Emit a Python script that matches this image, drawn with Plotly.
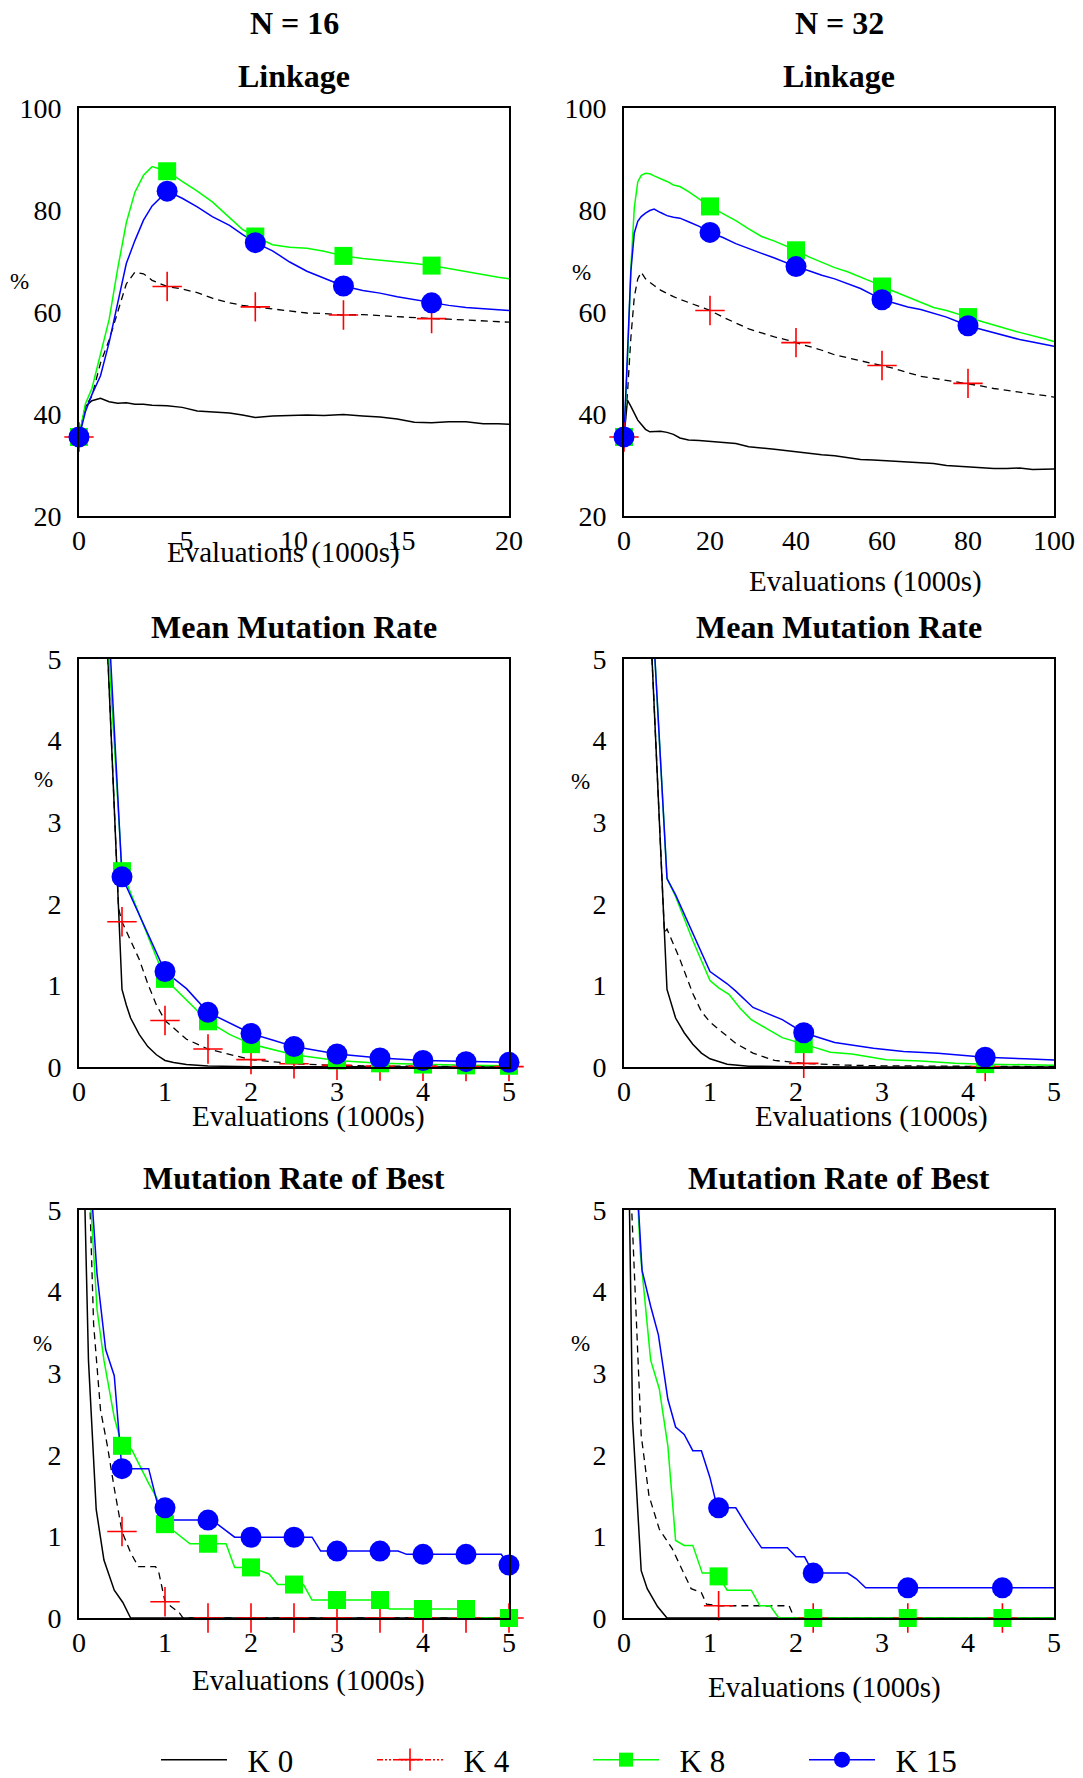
import plotly.graph_objects as go

W, H = 1083, 1778
FONT = "Liberation Serif"
BLACK, RED, GREEN, BLUE = "#000000", "#ff0000", "#00ff00", "#0000ff"

# ---------------- N = 16 : linkage (evaluations in 1000s) ----------------
link16_x = [0, 0.3, 0.6, 1.0, 1.4, 1.8, 2.2, 2.6, 3.0, 3.4, 4.1, 4.8, 5.5, 6.2, 7.0, 7.6,
            8.2, 9.0, 9.8, 10.6, 11.4, 12.3, 13.2, 14.0, 14.8, 15.6, 16.4, 17.2, 18.0,
            18.8, 19.5, 20.0]
link16_k0 = [35.5, 41.5, 42.6, 43.1, 42.4, 42.1, 42.2, 41.9, 41.9, 41.7, 41.6, 41.3, 40.6,
             40.4, 40.2, 39.8, 39.3, 39.6, 39.7, 39.8, 39.7, 39.9, 39.6, 39.4, 39.0, 38.4,
             38.3, 38.5, 38.5, 38.1, 38.1, 38.0]
link16_k4 = [35.5, 41.5, 43.5, 50.0, 54.5, 60.0, 65.5, 67.8, 67.5, 66.2, 65.0, 64.5, 63.8,
             62.7, 61.8, 61.3, 61.0, 60.6, 60.1, 59.8, 59.7, 59.4, 59.5, 59.3, 59.0, 58.9,
             58.7, 58.6, 58.4, 58.3, 58.1, 58.0]
link16_k8 = [35.5, 42.0, 45.0, 51.5, 58.5, 68.5, 77.5, 83.5, 86.8, 88.5, 87.6, 85.6, 83.7,
             81.6, 78.5, 76.2, 74.8, 73.2, 72.7, 72.5, 71.9, 71.0, 70.5, 70.2, 69.8, 69.5,
             69.1, 68.5, 67.8, 67.3, 66.8, 66.5]
link16_k15 = [35.5, 40.5, 43.8, 47.5, 54.0, 62.0, 69.5, 74.0, 78.0, 80.8, 83.7, 82.3, 80.6,
              78.7, 77.0, 75.2, 73.6, 72.0, 69.8, 68.0, 66.6, 65.1, 64.2, 63.7, 63.0, 62.4,
              61.8, 61.3, 60.9, 60.7, 60.5, 60.3]
link16_marks = [0, 4.1, 8.2, 12.3, 16.4]

# ---------------- N = 32 : linkage ----------------
link32_x = [0, 0.8, 1.6, 2.4, 3.2, 4, 5, 6, 7, 8.5, 10, 11.5, 13, 15, 17.5, 20, 23, 26, 29,
            32, 35, 38, 40, 43, 46, 49, 52, 55, 58, 60, 63, 66, 69, 72, 75, 78, 80, 83, 86,
            89, 92, 95, 98, 100]
link32_k0 = [35.5, 42.7, 41.5, 40.0, 38.8, 38.0, 37.0, 36.5, 36.5, 36.6, 36.4, 36.0, 35.3,
             34.9, 34.8, 34.6, 34.5, 34.2, 33.6, 33.4, 33.1, 32.8, 32.6, 32.2, 32.0, 31.8,
             31.4, 31.1, 31.0, 30.9, 30.7, 30.5, 30.4, 30.3, 29.9, 29.7, 29.6, 29.5, 29.3,
             29.3, 29.4, 29.1, 29.2, 29.2]
link32_k4 = [35.5, 44.0, 55.0, 63.0, 66.5, 67.8, 66.5, 65.8, 65.2, 64.3, 63.6, 63.0, 62.5,
             61.9, 61.0, 60.3, 59.0, 57.8, 56.7, 55.9, 55.1, 54.5, 54.0, 53.3, 52.5, 51.6,
             51.0, 50.5, 49.9, 49.5, 48.9, 48.1, 47.4, 47.0, 46.6, 46.3, 46.0, 45.5, 45.0,
             44.6, 44.2, 43.9, 43.6, 43.3]
link32_k8 = [35.5, 50.0, 68.7, 80.5, 85.5, 86.8, 87.2, 87.1, 86.7, 86.2, 85.6, 84.9, 84.6,
             83.6, 82.2, 80.7, 79.3, 77.9, 76.3, 74.8, 73.9, 72.9, 72.1, 70.8, 69.8, 68.7,
             67.9, 66.9, 65.8, 65.0, 64.0, 63.0, 61.9, 60.9, 60.3, 59.6, 59.0, 58.2, 57.4,
             56.7, 56.0, 55.4, 54.7, 54.2]
link32_k15 = [35.5, 52.0, 68.0, 75.5, 77.8, 78.7, 79.4, 79.9, 80.2, 79.5, 78.9, 78.6, 78.4,
              77.7, 76.8, 75.6, 74.6, 73.4, 72.4, 71.5, 70.6, 69.5, 68.9, 68.1, 67.2, 66.5,
              65.5, 64.6, 63.3, 62.4, 61.7, 61.0, 60.5, 59.8, 59.0, 58.0, 57.3, 56.6, 55.9,
              55.2, 54.6, 54.1, 53.6, 53.3]
link32_marks = [0, 20, 40, 60, 80]

# ---------------- N = 16 : mean mutation rate ----------------
mean16_k0_x = [0.3, 0.5, 0.55, 0.6, 0.7, 0.8, 0.9, 1.0, 1.1, 1.25, 1.5, 2.0, 3.0, 4.0, 5.0]
mean16_k0 = [5.9, 0.95, 0.76, 0.6, 0.40, 0.25, 0.15, 0.08, 0.055, 0.03, 0.012, 0.004, 0.002,
             0.001, 0.001]
mean16_k4_x = [0.3, 0.46, 0.5, 0.6, 0.7, 0.8, 0.9, 1.0, 1.25, 1.5, 2.0, 2.5, 3.0, 3.5, 4.0,
               4.5, 5.0]
mean16_k4 = [5.9, 1.94, 1.78, 1.55, 1.32, 1.02, 0.76, 0.57, 0.34, 0.22, 0.09, 0.04, 0.02,
             0.012, 0.008, 0.006, 0.005]
mean16_k8_x = [0.3, 0.5, 1.0, 1.25, 1.5, 1.75, 2.0, 2.5, 3.0, 3.5, 4.0, 4.5, 5.0]
mean16_k8 = [5.87, 2.40, 1.08, 0.82, 0.56, 0.40, 0.28, 0.15, 0.08, 0.045, 0.03, 0.02, 0.015]
mean16_k15_x = [0.3, 0.5, 1.0, 1.25, 1.5, 1.75, 2.0, 2.25, 2.5, 3.0, 3.5, 4.0, 4.5, 5.0]
mean16_k15 = [6.37, 2.33, 1.17, 0.96, 0.67, 0.54, 0.41, 0.33, 0.25, 0.16, 0.11, 0.08, 0.065,
              0.057]
mean16_marks = [0.5, 1.0, 1.5, 2.0, 2.5, 3.0, 3.5, 4.0, 4.5, 5.0]

# ---------------- N = 32 : mean mutation rate ----------------
mean32_k0_x = [0.3, 0.5, 0.6, 0.7, 0.8, 0.9, 1.0, 1.2, 1.45, 2.0, 3.0, 5.0]
mean32_k0 = [5.6, 0.95, 0.60, 0.42, 0.28, 0.17, 0.10, 0.035, 0.01, 0.003, 0.001, 0.001]
mean32_k4_x = [0.3, 0.47, 0.5, 0.65, 0.8, 0.9, 1.0, 1.2, 1.3, 1.5, 1.75, 2.09, 2.6, 3.0, 3.5,
               4.2, 5.0]
mean32_k4 = [5.6, 1.65, 1.69, 1.32, 0.90, 0.68, 0.55, 0.38, 0.29, 0.17, 0.08, 0.045, 0.022,
             0.015, 0.01, 0.007, 0.005]
mean32_k8_x = [0.3, 0.5, 0.6, 0.8, 1.0, 1.1, 1.22, 1.35, 1.48, 1.7, 1.84, 2.09, 2.4, 2.65,
               3.05, 3.45, 3.85, 4.2, 5.0]
mean32_k8 = [6.15, 2.31, 2.09, 1.55, 1.06, 0.97, 0.89, 0.72, 0.58, 0.45, 0.36, 0.28, 0.18,
             0.16, 0.09, 0.075, 0.045, 0.035, 0.022]
mean32_k15_x = [0.3, 0.5, 0.6, 0.8, 1.0, 1.2, 1.3, 1.5, 1.84, 2.09, 2.45, 2.9, 3.25, 3.65,
                4.2, 4.66, 5.0]
mean32_k15 = [6.15, 2.31, 2.11, 1.64, 1.17, 1.02, 0.93, 0.73, 0.58, 0.42, 0.30, 0.23, 0.19,
              0.17, 0.12, 0.10, 0.087]
mean32_marks = [2.09, 4.2]

# ---------------- N = 16 : mutation rate of best ----------------
best16_k0_x = [0.05, 0.11, 0.2, 0.29, 0.41, 0.51, 0.6, 5.0]
best16_k0 = [5.9, 3.16, 1.33, 0.71, 0.34, 0.19, 0.0, 0.0]
best16_k4_x = [0.1, 0.17, 0.25, 0.33, 0.41, 0.5, 0.6, 0.69, 0.89, 0.93, 1.0, 1.05, 1.17, 1.21,
               1.5, 2.0, 2.5, 3.0, 3.5, 4.0, 4.5, 5.0]
best16_k4 = [6.0, 3.6, 2.55, 2.11, 1.59, 1.06, 0.80, 0.63, 0.63, 0.55, 0.20, 0.16, 0.06, 0.0,
             0.0, 0.0, 0.0, 0.0, 0.0, 0.0, 0.0, 0.0]
best16_k8_x = [0.12, 0.21, 0.29, 0.41, 0.5, 0.61, 0.81, 0.91, 1.0, 1.13, 1.29, 1.5, 1.71, 1.81,
               2.0, 2.21, 2.31, 2.5, 2.61, 2.71, 3.0, 3.5, 3.61, 4.0, 4.5, 4.61, 5.0]
best16_k8 = [5.35, 3.78, 3.16, 2.46, 2.11, 2.07, 1.65, 1.46, 1.15, 1.04, 0.91, 0.91, 0.91,
             0.62, 0.62, 0.54, 0.41, 0.41, 0.41, 0.22, 0.22, 0.22, 0.11, 0.11, 0.11, 0.0, 0.0]
best16_k15_x = [0.14, 0.21, 0.31, 0.41, 0.49, 0.5, 0.81, 0.91, 1.0, 1.09, 1.5, 1.61, 1.81, 2.0,
                2.5, 2.71, 2.81, 3.0, 3.5, 3.71, 3.81, 4.0, 4.5, 4.91, 5.0]
best16_k15 = [5.3, 4.21, 3.29, 2.97, 1.94, 1.83, 1.83, 1.41, 1.35, 1.20, 1.20, 1.15, 0.99,
              0.99, 0.99, 0.99, 0.82, 0.82, 0.82, 0.82, 0.78, 0.78, 0.78, 0.78, 0.65]
best16_marks = [0.5, 1.0, 1.5, 2.0, 2.5, 3.0, 3.5, 4.0, 4.5, 5.0]

# ---------------- N = 32 : mutation rate of best ----------------
best32_k0_x = [0.05, 0.1, 0.2, 0.27, 0.39, 0.5, 5.0]
best32_k0 = [6.0, 2.42, 0.58, 0.36, 0.14, 0.0, 0.0]
best32_k4_x = [0.08, 0.17, 0.2, 0.29, 0.41, 0.56, 0.66, 0.78, 0.9, 0.96, 1.1, 1.92, 1.98, 2.2,
               3.3, 4.4, 5.0]
best32_k4 = [5.25, 2.99, 2.24, 1.5, 1.09, 0.85, 0.63, 0.36, 0.31, 0.17, 0.15, 0.15, 0.0, 0.0,
             0.0, 0.0, 0.0]
best32_k8_x = [0.15, 0.19, 0.31, 0.41, 0.51, 0.6, 0.7, 0.8, 0.91, 1.02, 1.1, 1.2, 1.48, 1.58,
               1.7, 1.8, 2.2, 3.3, 4.4, 5.0]
best32_k8 = [5.3, 4.47, 3.16, 2.81, 2.11, 0.95, 0.89, 0.89, 0.55, 0.55, 0.51, 0.34, 0.34, 0.15,
             0.15, 0.0, 0.0, 0.0, 0.0, 0.0]
best32_k15_x = [0.15, 0.21, 0.31, 0.4, 0.51, 0.6, 0.7, 0.8, 0.9, 1.0, 1.06, 1.1, 1.3, 1.44,
                1.6, 1.9, 2.0, 2.1, 2.2, 2.6, 2.7, 2.81, 3.3, 4.4, 5.0]
best32_k15 = [5.37, 4.26, 3.82, 3.47, 2.68, 2.34, 2.25, 2.05, 2.05, 1.72, 1.46, 1.35, 1.35,
              1.11, 0.86, 0.86, 0.75, 0.75, 0.55, 0.55, 0.48, 0.37, 0.37, 0.37, 0.37]
best32_marks = [1.1, 2.2, 3.3, 4.4]

SERIES_NAMES = ["K 0", "K 4", "K 8", "K 15"]
X_TITLE = "Evaluations (1000s)"

# ---------------- styling ----------------
LINE_STYLE = [
    dict(color=BLACK, width=1.5),
    dict(color=BLACK, width=1.3, dash="7px,5px"),
    dict(color=GREEN, width=1.5),
    dict(color=BLUE, width=1.5),
]
MARKER_STYLE = [
    None,
    dict(symbol="cross-thin", size=21, color=RED, line=dict(color=RED, width=1.6)),
    dict(symbol="square", size=18, color=GREEN, line=dict(width=0)),
    dict(symbol="circle", size=21, color=BLUE, line=dict(width=0)),
]

# pixel frame of each subplot (left/right, top/bottom)
COLS = [(79, 509), (624, 1054)]
ROWS = [(108, 516), (659, 1067), (1210, 1618)]


def px(x):
    return x / W


def py(y):
    return 1 - y / H


panels = [
    dict(series=[(link16_x, link16_k0), (link16_x, link16_k4), (link16_x, link16_k8),
                 (link16_x, link16_k15)],
         marks=link16_marks, xr=[0, 20], xd=5, yr=[20, 100], yd=20),
    dict(series=[(link32_x, link32_k0), (link32_x, link32_k4), (link32_x, link32_k8),
                 (link32_x, link32_k15)],
         marks=link32_marks, xr=[0, 100], xd=20, yr=[20, 100], yd=20),
    dict(series=[(mean16_k0_x, mean16_k0), (mean16_k4_x, mean16_k4), (mean16_k8_x, mean16_k8),
                 (mean16_k15_x, mean16_k15)],
         marks=mean16_marks, xr=[0, 5], xd=1, yr=[0, 5], yd=1),
    dict(series=[(mean32_k0_x, mean32_k0), (mean32_k4_x, mean32_k4), (mean32_k8_x, mean32_k8),
                 (mean32_k15_x, mean32_k15)],
         marks=mean32_marks, xr=[0, 5], xd=1, yr=[0, 5], yd=1),
    dict(series=[(best16_k0_x, best16_k0), (best16_k4_x, best16_k4), (best16_k8_x, best16_k8),
                 (best16_k15_x, best16_k15)],
         marks=best16_marks, xr=[0, 5], xd=1, yr=[0, 5], yd=1),
    dict(series=[(best32_k0_x, best32_k0), (best32_k4_x, best32_k4), (best32_k8_x, best32_k8),
                 (best32_k15_x, best32_k15)],
         marks=best32_marks, xr=[0, 5], xd=1, yr=[0, 5], yd=1),
]

fig = go.Figure()
layout_axes = {}

for i, p in enumerate(panels):
    r, c = divmod(i, 2)
    sx = "x" if i == 0 else f"x{i + 1}"
    sy = "y" if i == 0 else f"y{i + 1}"
    # curves first
    for k, (xs, ys) in enumerate(p["series"]):
        fig.add_trace(go.Scatter(x=xs, y=ys, mode="lines", line=LINE_STYLE[k],
                                 xaxis=sx, yaxis=sy, showlegend=False, hoverinfo="skip"))
    # then the symbols on top, not clipped at the frame
    for k, (xs, ys) in enumerate(p["series"]):
        if MARKER_STYLE[k] is None:
            continue
        mx = [m for m in p["marks"] if m in xs]
        my = [ys[xs.index(m)] for m in mx]
        fig.add_trace(go.Scatter(x=mx, y=my, mode="markers", marker=MARKER_STYLE[k],
                                 cliponaxis=False, xaxis=sx, yaxis=sy, showlegend=False,
                                 hoverinfo="skip"))

    common = dict(showline=True, mirror=True, linecolor=BLACK, linewidth=2, showgrid=False,
                  zeroline=False, tick0=0, automargin=False,
                  tickfont=dict(family=FONT, size=28, color=BLACK), fixedrange=True)
    layout_axes["xaxis" if i == 0 else f"xaxis{i + 1}"] = dict(
        common, domain=[px(COLS[c][0]), px(COLS[c][1])], anchor=sy, range=p["xr"],
        dtick=p["xd"], ticks="", ticklabelstandoff=-2)
    layout_axes["yaxis" if i == 0 else f"yaxis{i + 1}"] = dict(
        common, domain=[py(ROWS[r][1]), py(ROWS[r][0])], anchor=sx, range=p["yr"],
        dtick=p["yd"], ticks="outside", ticklen=10, tickcolor="rgba(0,0,0,0)")

# legend entries
LEGEND_STYLE = [
    dict(mode="lines", line=dict(color=BLACK, width=1.5)),
    dict(mode="lines+markers", line=dict(color=RED, width=1.5, dash="6px,2px,2px,2px,2px,2px"),
         marker=dict(symbol="cross-thin", size=16, color=RED, line=dict(color=RED, width=1.6))),
    dict(mode="lines+markers", line=dict(color=GREEN, width=1.5),
         marker=dict(symbol="square", size=14, color=GREEN)),
    dict(mode="lines+markers", line=dict(color=BLUE, width=1.5),
         marker=dict(symbol="circle", size=16, color=BLUE)),
]
for name, st in zip(SERIES_NAMES, LEGEND_STYLE):
    fig.add_trace(go.Scatter(x=[None], y=[None], name="\u00a0\u00a0" + name, showlegend=True,
                             **st))

annotations = []


def label(text, x, y, size, bold=False):
    annotations.append(dict(
        text=f"<b>{text}</b>" if bold else text, x=px(x), y=py(y), xref="paper", yref="paper",
        xanchor="center", yanchor="middle", showarrow=False,
        font=dict(family=FONT, size=size, color=BLACK)))


label("N = 16", 294, 23, 32, True)
label("N = 32", 839, 23, 32, True)
for cx in (294, 839):
    label("Linkage", cx, 76, 32, True)
    label("Mean Mutation Rate", cx, 627, 32, True)
    label("Mutation Rate of Best", cx, 1178, 32, True)

for x, y in [(283, 552), (865, 581), (308, 1116), (871, 1116), (308, 1680), (824, 1687)]:
    label(X_TITLE, x, y, 29)
for x, y in [(19, 281), (581, 273), (43, 779), (580, 781), (42, 1343), (580, 1343)]:
    label("%", x, y, 23)

fig.update_layout(
    width=W, height=H, margin=dict(l=0, r=0, t=0, b=0, pad=0, autoexpand=False),
    paper_bgcolor="white", plot_bgcolor="white",
    annotations=annotations,
    showlegend=True,
    legend=dict(orientation="h", x=px(156), xanchor="left", y=py(1760), yanchor="middle",
                font=dict(family=FONT, size=31, color=BLACK), itemwidth=66, entrywidth=135,
                bgcolor="rgba(0,0,0,0)", traceorder="normal"),
    **layout_axes,
)

fig.write_html("out.html", config={"displayModeBar": False})
